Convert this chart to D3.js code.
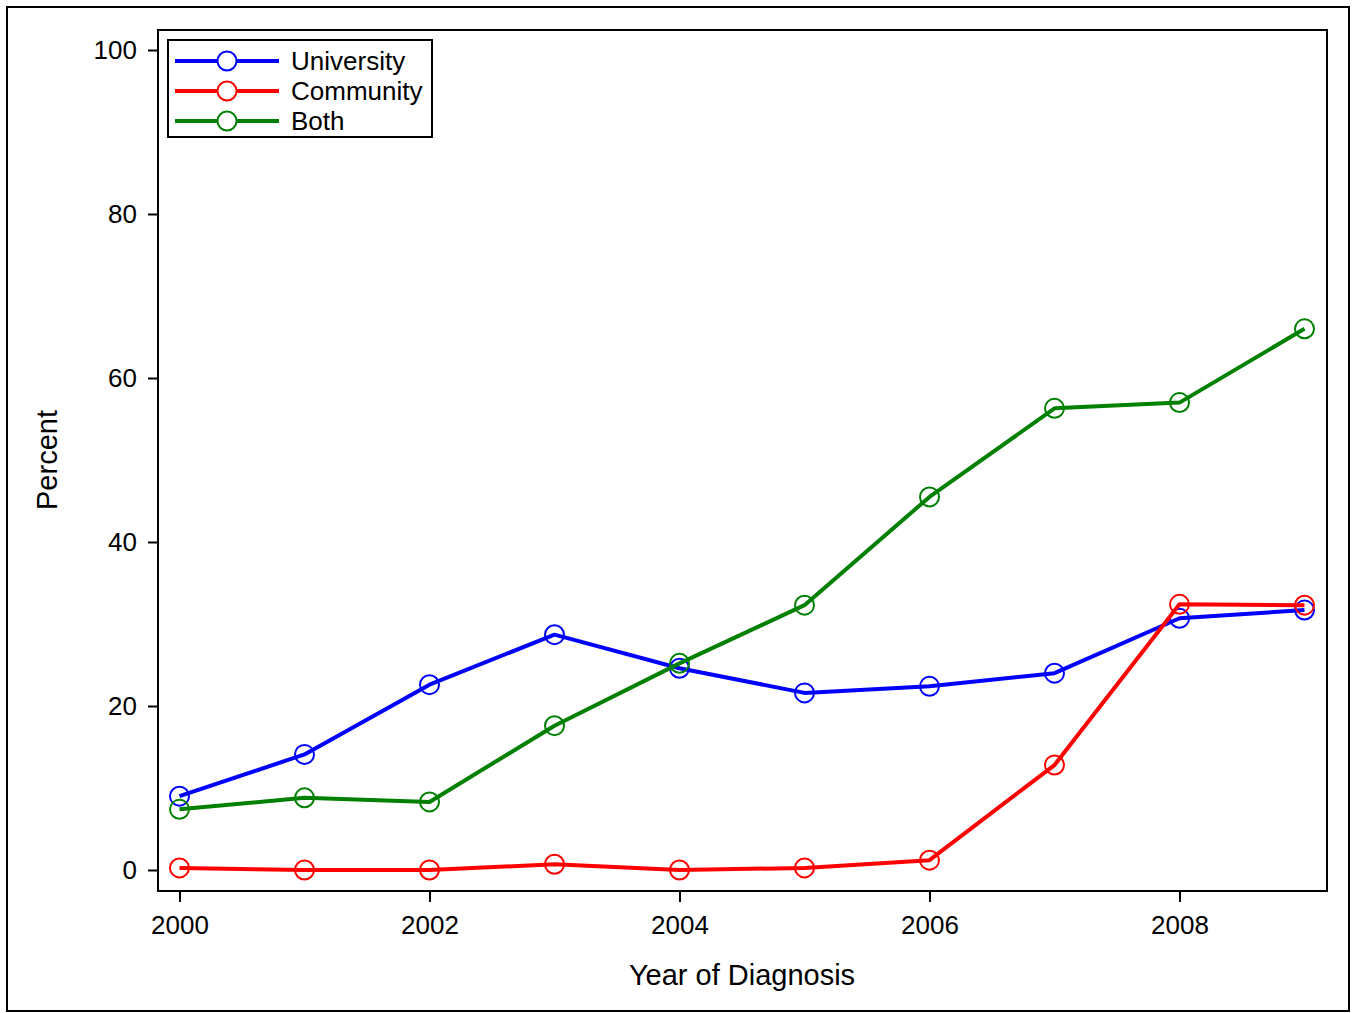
<!DOCTYPE html>
<html>
<head>
<meta charset="utf-8">
<script src="https://cdn.jsdelivr.net/npm/d3@7"></script>
<style>
  body { margin: 0; background: #fff; }
  text { font-family: "Liberation Sans", Arial, sans-serif; fill: #000; }
</style>
</head>
<body>
<div class="chart"></div>
<script>
const years = [2000, 2001, 2002, 2003, 2004, 2005, 2006, 2007, 2008, 2009];
const university = [9.0, 14.1, 22.6, 28.7, 24.6, 21.6, 22.4, 24.0, 30.7, 31.7];
const community = [0.25, 0, 0, 0.7, 0, 0.25, 1.2, 12.8, 32.4, 32.3];
const both = [7.4, 8.8, 8.3, 17.6, 25.2, 32.3, 45.5, 56.3, 57.0, 66.0];
const xTicks = [2000, 2002, 2004, 2006, 2008];
const yTicks = [0, 20, 40, 60, 80, 100];

const series = [
    { name: "University", values: university, color: "#0000ff" },
    { name: "Community", values: community, color: "#ff0000" },
    { name: "Both", values: both, color: "#008000" }
];

const W = 1357, H = 1013;
const frame = { left: 158, right: 1327, top: 30, bottom: 891 };

const svg = d3.select(".chart")
    .append("svg")
    .attr("width", W)
    .attr("height", H);

// outer border
svg.append("rect")
    .attr("x", 7).attr("y", 7)
    .attr("width", 1342).attr("height", 1004)
    .attr("fill", "none")
    .attr("stroke", "#000")
    .attr("stroke-width", 2);

let xScale = d3.scaleLinear()
    .domain([2000, 2009])
    .range([179.5, 1304.5]);

let yScale = d3.scaleLinear()
    .domain([0, 100])
    .range([870, 50]);

// plot frame
svg.append("rect")
    .attr("x", frame.left).attr("y", frame.top)
    .attr("width", frame.right - frame.left)
    .attr("height", frame.bottom - frame.top)
    .attr("fill", "none")
    .attr("stroke", "#000")
    .attr("stroke-width", 2);

// y axis
svg.append("g")
    .attr("transform", `translate(${frame.left}, 0)`)
    .call(d3.axisLeft(yScale).tickValues(yTicks).tickSize(10).tickPadding(11))
    .call(g => g.select(".domain").remove())
    .call(g => g.selectAll("line").attr("stroke", "#000").attr("stroke-width", 2))
    .call(g => g.selectAll("text").attr("font-size", 26).attr("font-family", "Liberation Sans, Arial, sans-serif"));

// x axis
svg.append("g")
    .attr("transform", `translate(0, ${frame.bottom})`)
    .call(d3.axisBottom(xScale).tickValues(xTicks).tickFormat(d3.format("d")).tickSize(11).tickPadding(14))
    .call(g => g.select(".domain").remove())
    .call(g => g.selectAll("line").attr("stroke", "#000").attr("stroke-width", 2))
    .call(g => g.selectAll("text").attr("font-size", 26).attr("font-family", "Liberation Sans, Arial, sans-serif"));

// axis titles
svg.append("text")
    .attr("x", 742).attr("y", 985)
    .attr("text-anchor", "middle")
    .attr("font-size", 29)
    .text("Year of Diagnosis");

svg.append("text")
    .attr("transform", "translate(57, 460) rotate(-90)")
    .attr("text-anchor", "middle")
    .attr("font-size", 29)
    .text("Percent");

// lines + markers
let line = d3.line()
    .x((d, i) => xScale(years[i]))
    .y(d => yScale(d));

series.forEach(s => {
    svg.append("path")
        .datum(s.values)
        .attr("fill", "none")
        .attr("stroke", s.color)
        .attr("stroke-width", 4)
        .attr("stroke-linejoin", "round")
        .attr("d", line);

    svg.selectAll(null)
        .data(s.values)
        .enter().append("circle")
        .attr("cx", (d, i) => xScale(years[i]))
        .attr("cy", d => yScale(d))
        .attr("r", 9.5)
        .attr("fill", "none")
        .attr("stroke", s.color)
        .attr("stroke-width", 2);
});

// legend
let legend = svg.append("g");
legend.append("rect")
    .attr("x", 168).attr("y", 40)
    .attr("width", 264).attr("height", 97)
    .attr("fill", "#fff")
    .attr("stroke", "#000")
    .attr("stroke-width", 2);

series.forEach((s, i) => {
    let y = 61 + i * 30;
    legend.append("line")
        .attr("x1", 175).attr("x2", 279)
        .attr("y1", y).attr("y2", y)
        .attr("stroke", s.color)
        .attr("stroke-width", 4);
    legend.append("circle")
        .attr("cx", 227).attr("cy", y)
        .attr("r", 9.5)
        .attr("fill", "#fff")
        .attr("stroke", s.color)
        .attr("stroke-width", 2);
    legend.append("text")
        .attr("x", 291).attr("y", y + 9)
        .attr("font-size", 26)
        .text(s.name);
});
</script>
</body>
</html>
